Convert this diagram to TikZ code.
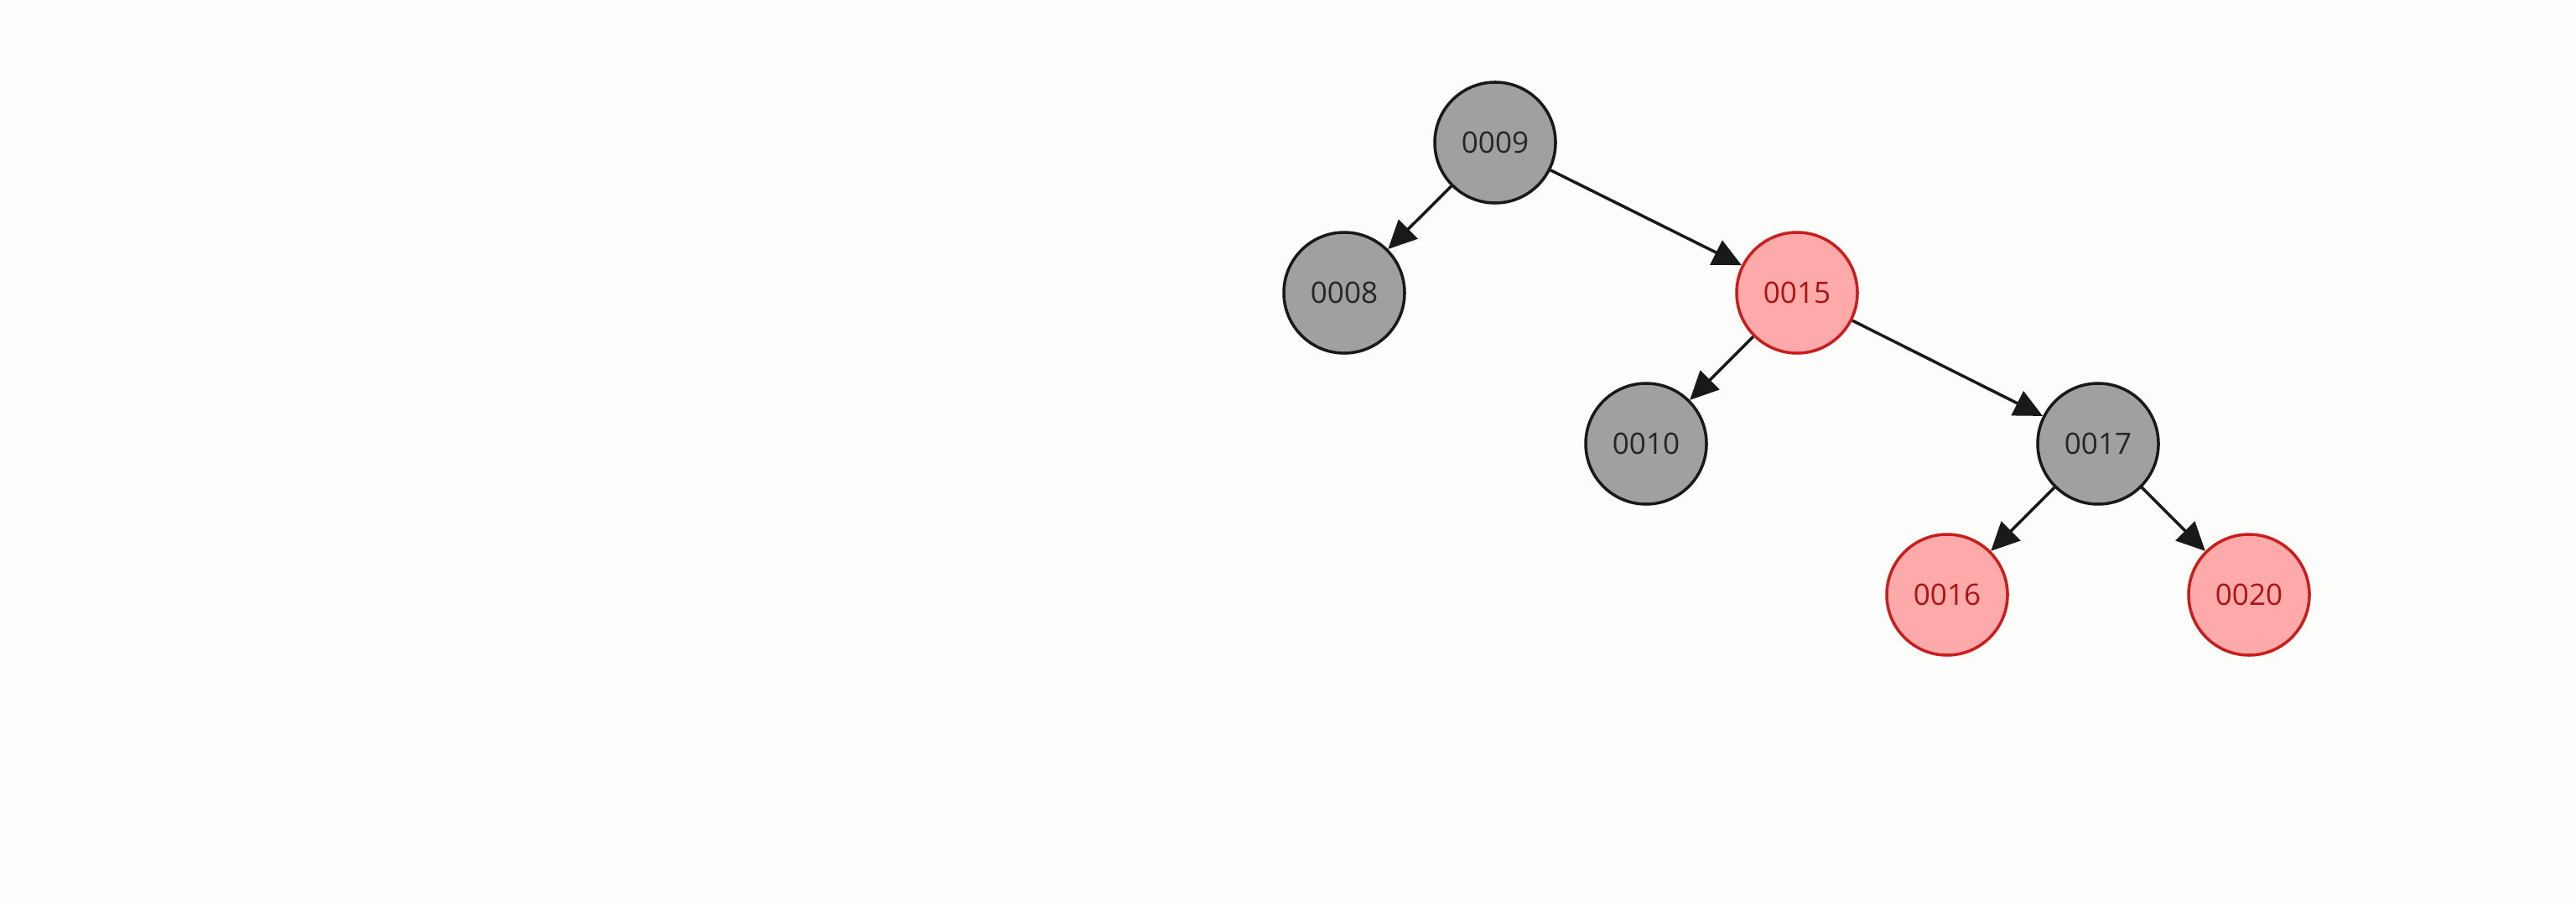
\documentclass[tikz,border=0pt]{standalone}
\usepackage{fontspec}
\setmainfont{Open Sans}
\usetikzlibrary{arrows.meta}
\definecolor{bgcol}{RGB}{253,253,252}
\definecolor{blackfill}{RGB}{160,160,160}
\definecolor{redfill}{RGB}{255,170,170}
\definecolor{redline}{RGB}{200,30,30}
\definecolor{redtext}{RGB}{170,20,20}
\tikzset{
  blacknode/.style={circle, draw=black!90, fill=blackfill, line width=1pt,
    minimum size=1.44cm, inner sep=0pt, text=black!85},
  rednode/.style={circle, draw=redline, fill=redfill, line width=1pt,
    minimum size=1.44cm, inner sep=0pt, text=redtext},
  edge/.style={draw=black!90, line width=1pt, -{Triangle[length=0.34cm,width=0.32cm]}}
}
\begin{document}
\begin{tikzpicture}[every node/.style={font=\fontsize{10}{12}\selectfont}]
  \fill[bgcol] (0,0) rectangle (30.72,-10.8);
  \useasboundingbox (0,0) rectangle (30.72,-10.8);
  % tree nodes
  \node[blacknode] (n9)  at (17.83,-1.70) {0009};
  \node[blacknode] (n8)  at (16.03,-3.49) {0008};
  \node[rednode]   (n15) at (21.43,-3.49) {0015};
  \node[blacknode] (n10) at (19.63,-5.29) {0010};
  \node[blacknode] (n17) at (25.02,-5.29) {0017};
  \node[rednode]   (n16) at (23.22,-7.09) {0016};
  \node[rednode]   (n20) at (26.82,-7.09) {0020};
  % links
  \draw[edge] (n9) -- (n8);
  \draw[edge] (n9) -- (n15);
  \draw[edge] (n15) -- (n10);
  \draw[edge] (n15) -- (n17);
  \draw[edge] (n17) -- (n16);
  \draw[edge] (n17) -- (n20);
\end{tikzpicture}
\end{document}
